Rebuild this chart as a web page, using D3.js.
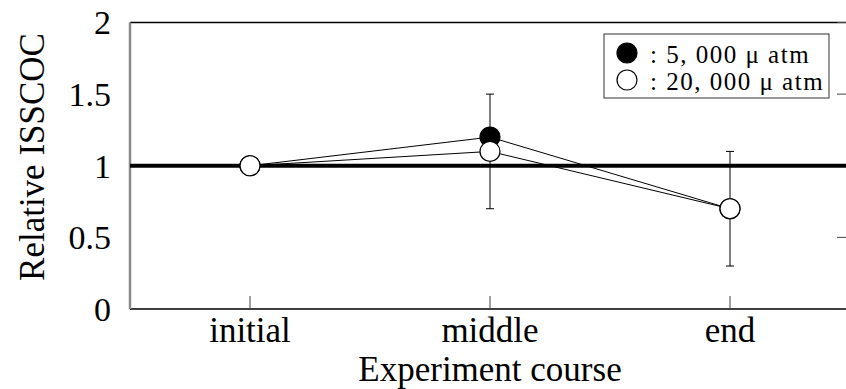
<!DOCTYPE html>
<html>
<head>
<meta charset="utf-8">
<script src="https://cdn.jsdelivr.net/npm/d3@7"></script>
<style>
  body { margin: 0; background: #fff; }
  svg { display: block; }
  .tick-label { font-family: "Liberation Serif", "Times New Roman", serif; font-size: 34px; fill: #000; }
  .x-label { font-size: 35px; }
  .legend-text { font-family: "Liberation Serif", serif; font-size: 25px; letter-spacing: 1.5px; fill: #000; }
</style>
</head>
<body>
<div id="chart"></div>
<script>
// data
var categories = ["initial", "middle", "end"];
var series5000 = [1.0, 1.2, 0.7];
var series20000 = [1.0, 1.1, 0.7];
var errLow = [null, 0.7, 0.3];
var errHigh = [null, 1.5, 1.1];
var yTicks = [0, 0.5, 1, 1.5, 2];
var yTickLabels = ["0", "0.5", "1", "1.5", "2"];
var legendLabels = [": 5, 000 \u03bc atm", ": 20, 000 \u03bc atm"];

var W = 846, H = 389;
var margin = {top: 22.5, right: -4, bottom: 80, left: 130};
var width = W - margin.left - margin.right,
    height = H - margin.top - margin.bottom;

var svg = d3.select("#chart").append("svg")
    .attr("width", W)
    .attr("height", H);

var g = svg.append("g")
    .attr("transform", "translate(" + margin.left + "," + margin.top + ")");

var x = d3.scalePoint().domain(categories).range([0, width]).padding(0.5);
var y = d3.scaleLinear().domain([0, 2]).range([height, 0]);

// frame: top and bottom black, left gray
g.append("line").attr("x1", 0).attr("x2", width).attr("y1", 0).attr("y2", 0)
    .attr("stroke", "#000").attr("stroke-width", 1.5);
g.append("line").attr("x1", 0).attr("x2", width).attr("y1", height).attr("y2", height)
    .attr("stroke", "#000").attr("stroke-width", 1.5);
g.append("line").attr("x1", 0).attr("x2", 0).attr("y1", 0).attr("y2", height)
    .attr("stroke", "#888").attr("stroke-width", 2.5);

// inward ticks on right side
g.selectAll(".rtick").data(yTicks).enter().append("line")
    .attr("class", "rtick")
    .attr("x1", width - 13).attr("x2", width)
    .attr("y1", d => y(d)).attr("y2", d => y(d))
    .attr("stroke", "#444").attr("stroke-width", 1);

// inward ticks on bottom
g.selectAll(".btick").data(categories).enter().append("line")
    .attr("class", "btick")
    .attr("x1", d => x(d)).attr("x2", d => x(d))
    .attr("y1", height - 13).attr("y2", height)
    .attr("stroke", "#444").attr("stroke-width", 1);

// y labels
g.selectAll(".ylab").data(yTicks).enter().append("text")
    .attr("class", "tick-label")
    .attr("x", -19)
    .attr("y", d => y(d))
    .attr("dy", "0.35em")
    .style("text-anchor", "end")
    .text((d, i) => yTickLabels[i]);

// x labels
g.selectAll(".xlab").data(categories).enter().append("text")
    .attr("class", "tick-label x-label")
    .attr("x", d => x(d))
    .attr("y", height + 33)
    .style("text-anchor", "middle")
    .text(d => d);

// axis titles
svg.append("text")
    .attr("class", "tick-label")
    .style("font-size", "35px")
    .attr("transform", "rotate(-90)")
    .attr("x", -157)
    .attr("y", 44)
    .style("text-anchor", "middle")
    .text("Relative ISSCOC");

svg.append("text")
    .attr("class", "tick-label x-label")
    .attr("x", 490)
    .attr("y", 381)
    .style("text-anchor", "middle")
    .text("Experiment course");

// reference line at 1
g.append("line")
    .attr("x1", 0).attr("x2", width)
    .attr("y1", y(1)).attr("y2", y(1))
    .attr("stroke", "#000").attr("stroke-width", 4);

// error bars
var errIdx = categories.map((c, i) => i).filter(i => errLow[i] != null);
var eb = g.selectAll(".err").data(errIdx).enter().append("g").attr("class", "err");
eb.append("line")
    .attr("x1", i => x(categories[i])).attr("x2", i => x(categories[i]))
    .attr("y1", i => y(errLow[i])).attr("y2", i => y(errHigh[i]))
    .attr("stroke", "#000").attr("stroke-width", 1);
eb.append("line")
    .attr("x1", i => x(categories[i]) - 4).attr("x2", i => x(categories[i]) + 4)
    .attr("y1", i => y(errLow[i])).attr("y2", i => y(errLow[i]))
    .attr("stroke", "#000").attr("stroke-width", 1);
eb.append("line")
    .attr("x1", i => x(categories[i]) - 4).attr("x2", i => x(categories[i]) + 4)
    .attr("y1", i => y(errHigh[i])).attr("y2", i => y(errHigh[i]))
    .attr("stroke", "#000").attr("stroke-width", 1);

// lines
var line = d3.line()
    .x((d, i) => x(categories[i]))
    .y(d => y(d));

[series5000, series20000].forEach(function(s) {
    g.append("path")
        .datum(s)
        .attr("d", line)
        .attr("fill", "none")
        .attr("stroke", "#000")
        .attr("stroke-width", 1);
});

// markers: filled first, open on top
g.selectAll(".dot5000").data(series5000).enter().append("circle")
    .attr("cx", (d, i) => x(categories[i]))
    .attr("cy", d => y(d))
    .attr("r", 10)
    .attr("fill", "#000")
    .attr("stroke", "#000").attr("stroke-width", 1.2);

g.selectAll(".dot20000").data(series20000).enter().append("circle")
    .attr("cx", (d, i) => x(categories[i]))
    .attr("cy", d => y(d))
    .attr("r", 10)
    .attr("fill", "#fff")
    .attr("stroke", "#000").attr("stroke-width", 1.2);

// legend
var lg = svg.append("g").attr("transform", "translate(604,34)");
lg.append("rect")
    .attr("width", 225).attr("height", 64)
    .attr("fill", "#fff")
    .attr("stroke", "#333").attr("stroke-width", 1);

lg.selectAll(".lmark").data(legendLabels).enter().append("circle")
    .attr("cx", 23)
    .attr("cy", (d, i) => 19 + i * 27)
    .attr("r", 10)
    .attr("fill", (d, i) => i === 0 ? "#000" : "#fff")
    .attr("stroke", "#000").attr("stroke-width", 1.2);

lg.selectAll(".ltext").data(legendLabels).enter().append("text")
    .attr("class", "legend-text")
    .attr("x", 46)
    .attr("y", (d, i) => 29 + i * 27)
    .text(d => d);
</script>
</body>
</html>
